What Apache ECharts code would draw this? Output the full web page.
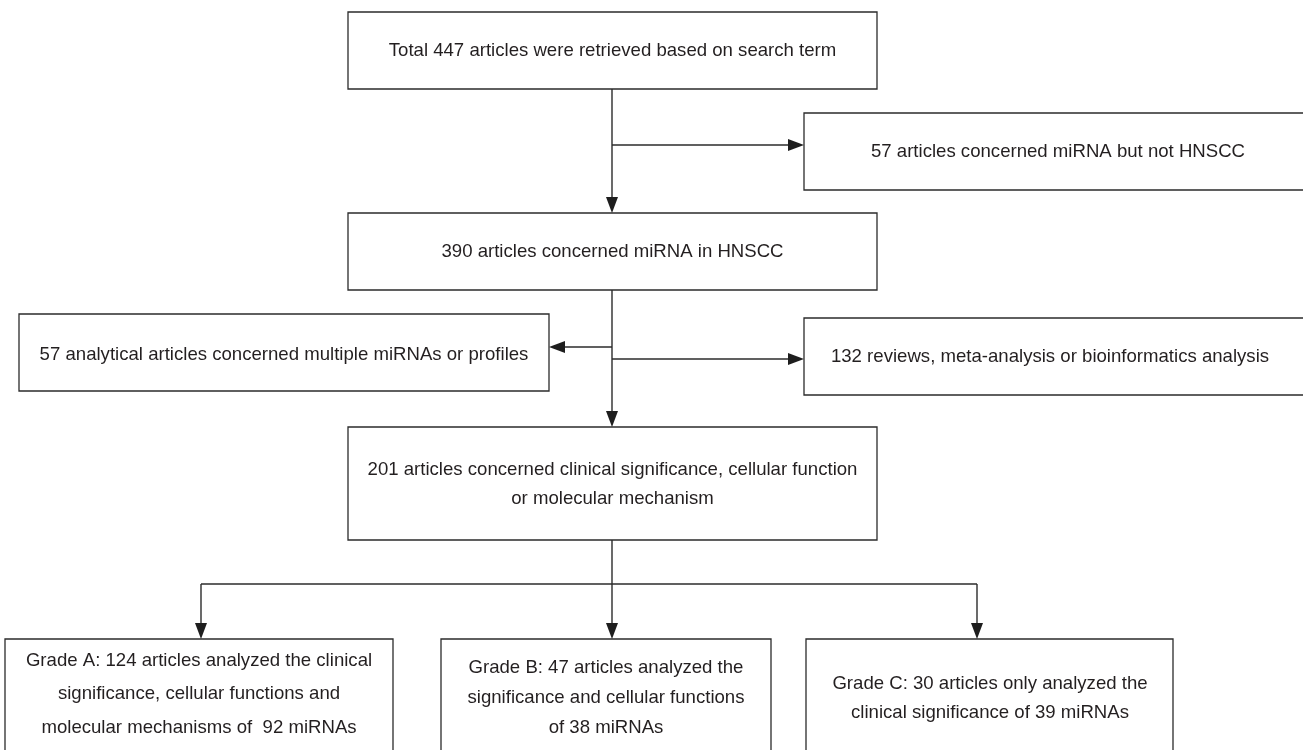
<!DOCTYPE html>
<html>
<head>
<meta charset="utf-8">
<script src="https://cdn.jsdelivr.net/npm/echarts@6/dist/echarts.min.js"></script>
<style>
html,body{margin:0;padding:0;background:#fff;}
#chart{width:1303px;height:750px;}
</style>
</head>
<body>
<div id="chart"></div>
<script>
// Node texts (content)
const nodeTexts = [
  'Total 447 articles were retrieved based on search term',
  '57 articles concerned miRNA but not HNSCC',
  '390 articles concerned miRNA in HNSCC',
  '57 analytical articles concerned multiple miRNAs or profiles',
  '132 reviews, meta-analysis or bioinformatics analysis',
  '201 articles concerned clinical significance, cellular function\nor molecular mechanism',
  'Grade A: 124 articles analyzed the clinical\nsignificance, cellular functions and\nmolecular mechanisms of  92 miRNAs',
  'Grade B: 47 articles analyzed the\nsignificance and cellular functions\nof 38 miRNAs',
  'Grade C: 30 articles only analyzed the\nclinical significance of 39 miRNAs'
];

// Layout of boxes in diagram units: [x0, y0, x1, y1, textX, textY, lineHeight, textIndex]
const boxLayout = [
  [348, 12, 877, 89, 612.5, 51, 20, 0],
  [804, 113, 1320, 190, 1058, 152, 20, 1],
  [348, 213, 877, 290, 612.5, 252, 20, 2],
  [19, 314, 549, 391, 284, 355, 20, 3],
  [804, 318, 1320, 395, 1050, 357, 20, 4],
  [348, 427, 877, 540, 612.5, 484.5, 29, 5],
  [5, 639, 393, 780, 199, 694, 33.5, 6],
  [441, 639, 771, 780, 606, 698, 30, 7],
  [806, 639, 1173, 780, 990, 698.5, 29, 8]
];

// Connectors: [x1, y1, x2, y2, hasArrow]
const connectorLayout = [
  [612, 89, 612, 213, 1],
  [612, 145, 804, 145, 1],
  [612, 290, 612, 427, 1],
  [612, 347, 549, 347, 1],
  [612, 359, 804, 359, 1],
  [612, 540, 612, 639, 1],
  [201, 584, 977, 584, 0],
  [201, 584, 201, 639, 1],
  [977, 584, 977, 639, 1]
];

const LINE = '#2b2b2b';
const TEXT = '#231f20';
const FONT = '"Liberation Sans", Arial, Helvetica, sans-serif';

const chart = echarts.init(document.getElementById('chart'));
chart.setOption({
  backgroundColor: '#ffffff',
  animation: false,
  grid: {left: 0, right: 0, top: 0, bottom: 0},
  xAxis: {type: 'value', min: 0, max: 1303, show: false},
  yAxis: {type: 'value', min: 0, max: 750, inverse: true, show: false},
  series: [
    {
      type: 'custom',
      coordinateSystem: 'cartesian2d',
      data: boxLayout,
      clip: false,
      renderItem: function (params, api) {
        const p0 = api.coord([api.value(0), api.value(1)]);
        const p1 = api.coord([api.value(2), api.value(3)]);
        const t = api.coord([api.value(4), api.value(5)]);
        const idx = api.value(7);
        return {
          type: 'group',
          children: [
            {
              type: 'rect',
              shape: {x: p0[0], y: p0[1], width: p1[0] - p0[0], height: p1[1] - p0[1]},
              style: {fill: '#ffffff', stroke: LINE, lineWidth: 1.3}
            },
            {
              type: 'text',
              style: {
                text: nodeTexts[idx],
                x: t[0], y: t[1],
                align: 'center', verticalAlign: 'middle',
                fontSize: 18.6, fontFamily: FONT,
                lineHeight: api.value(6),
                fill: TEXT
              }
            }
          ]
        };
      }
    },
    {
      type: 'custom',
      coordinateSystem: 'cartesian2d',
      data: connectorLayout,
      clip: false,
      z: 3,
      renderItem: function (params, api) {
        const a = api.coord([api.value(0), api.value(1)]);
        const b = api.coord([api.value(2), api.value(3)]);
        const arrow = api.value(4);
        const children = [];
        const dx = b[0] - a[0], dy = b[1] - a[1];
        const len = Math.sqrt(dx * dx + dy * dy);
        const ux = dx / len, uy = dy / len;
        const hl = 16, hw = 6;
        const end = arrow ? [b[0] - ux * (hl - 2), b[1] - uy * (hl - 2)] : b;
        children.push({
          type: 'line',
          shape: {x1: a[0], y1: a[1], x2: end[0], y2: end[1]},
          style: {stroke: LINE, lineWidth: 1.4}
        });
        if (arrow) {
          const bx = b[0] - ux * hl, by = b[1] - uy * hl;
          children.push({
            type: 'polygon',
            shape: {points: [[b[0], b[1]], [bx - uy * hw, by + ux * hw], [bx + uy * hw, by - ux * hw]]},
            style: {fill: '#1e1e1e'}
          });
        }
        return {type: 'group', children: children};
      }
    }
  ]
});
</script>
</body>
</html>
